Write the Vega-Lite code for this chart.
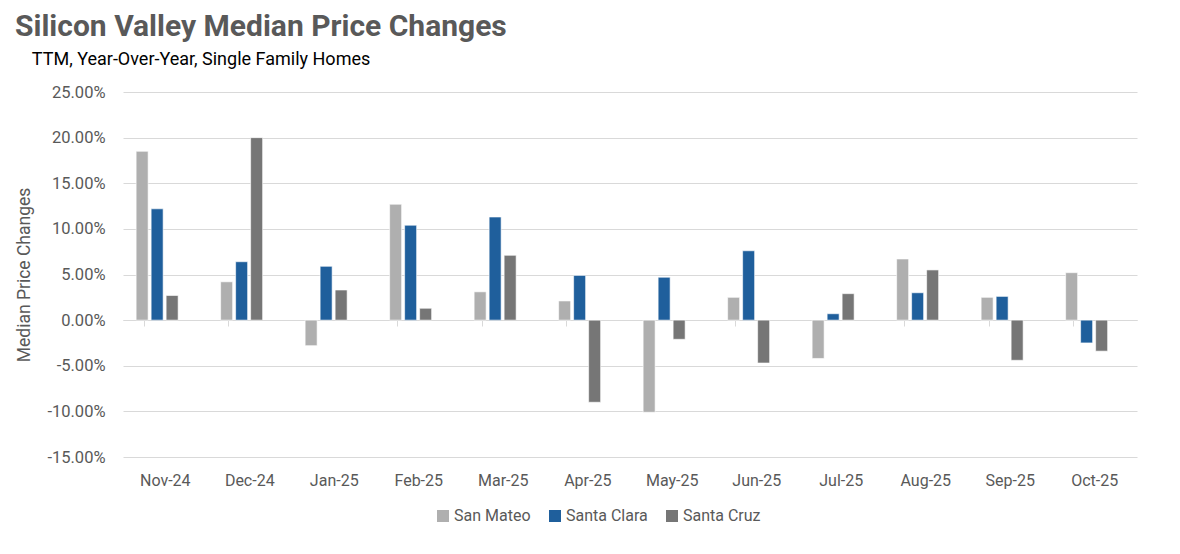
{
  "$schema": "https://vega.github.io/schema/vega-lite/v6.json",
  "autosize": "none",
  "width": 1014,
  "height": 365,
  "padding": {"left": 123, "top": 92, "right": 43, "bottom": 97},
  "background": "white",
  "title": {
    "text": "Silicon Valley Median Price Changes",
    "subtitle": "\u2800\u2009TTM, Year-Over-Year, Single Family Homes",
    "anchor": "start",
    "frame": "group",
    "dx": -108,
    "offset": 15,
    "font": "Roboto",
    "fontSize": 30,
    "fontWeight": 700,
    "color": "#595959",
    "subtitleFont": "Roboto, DejaVu Sans",
    "subtitleFontSize": 18,
    "subtitleColor": "#000000",
    "subtitlePadding": 9
  },
  "data": {
    "values": [
      {"month": "Nov-24", "county": "San Mateo", "change": 0.185},
      {"month": "Nov-24", "county": "Santa Clara", "change": 0.122},
      {"month": "Nov-24", "county": "Santa Cruz", "change": 0.027},
      {"month": "Dec-24", "county": "San Mateo", "change": 0.042},
      {"month": "Dec-24", "county": "Santa Clara", "change": 0.064},
      {"month": "Dec-24", "county": "Santa Cruz", "change": 0.200},
      {"month": "Jan-25", "county": "San Mateo", "change": -0.028},
      {"month": "Jan-25", "county": "Santa Clara", "change": 0.059},
      {"month": "Jan-25", "county": "Santa Cruz", "change": 0.033},
      {"month": "Feb-25", "county": "San Mateo", "change": 0.127},
      {"month": "Feb-25", "county": "Santa Clara", "change": 0.104},
      {"month": "Feb-25", "county": "Santa Cruz", "change": 0.013},
      {"month": "Mar-25", "county": "San Mateo", "change": 0.031},
      {"month": "Mar-25", "county": "Santa Clara", "change": 0.113},
      {"month": "Mar-25", "county": "Santa Cruz", "change": 0.071},
      {"month": "Apr-25", "county": "San Mateo", "change": 0.021},
      {"month": "Apr-25", "county": "Santa Clara", "change": 0.049},
      {"month": "Apr-25", "county": "Santa Cruz", "change": -0.090},
      {"month": "May-25", "county": "San Mateo", "change": -0.101},
      {"month": "May-25", "county": "Santa Clara", "change": 0.047},
      {"month": "May-25", "county": "Santa Cruz", "change": -0.021},
      {"month": "Jun-25", "county": "San Mateo", "change": 0.025},
      {"month": "Jun-25", "county": "Santa Clara", "change": 0.076},
      {"month": "Jun-25", "county": "Santa Cruz", "change": -0.047},
      {"month": "Jul-25", "county": "San Mateo", "change": -0.042},
      {"month": "Jul-25", "county": "Santa Clara", "change": 0.007},
      {"month": "Jul-25", "county": "Santa Cruz", "change": 0.029},
      {"month": "Aug-25", "county": "San Mateo", "change": 0.067},
      {"month": "Aug-25", "county": "Santa Clara", "change": 0.030},
      {"month": "Aug-25", "county": "Santa Cruz", "change": 0.055},
      {"month": "Sep-25", "county": "San Mateo", "change": 0.025},
      {"month": "Sep-25", "county": "Santa Clara", "change": 0.026},
      {"month": "Sep-25", "county": "Santa Cruz", "change": -0.044},
      {"month": "Oct-25", "county": "San Mateo", "change": 0.052},
      {"month": "Oct-25", "county": "Santa Clara", "change": -0.025},
      {"month": "Oct-25", "county": "Santa Cruz", "change": -0.034}
    ]
  },
  "mark": {"type": "bar", "stroke": "#ffffff", "strokeWidth": 0.6},
  "encoding": {
    "x": {
      "field": "month",
      "type": "nominal",
      "sort": null,
      "scale": {"paddingInner": 0.5, "paddingOuter": 0.25},
      "axis": {
        "title": null,
        "orient": "bottom",
        "offset": -137,
        "domain": true,
        "domainColor": "#d9d9d9",
        "domainWidth": 1,
        "ticks": true,
        "tickColor": "#d9d9d9",
        "tickSize": 6,
        "bandPosition": 0,
        "labelAngle": 0,
        "labelPadding": 146,
        "labelFont": "Roboto",
        "labelFontSize": 16,
        "labelColor": "#595959",
        "grid": false
      }
    },
    "xOffset": {
      "field": "county",
      "type": "nominal",
      "scale": {"paddingInner": 0.2, "paddingOuter": 0, "range": [-8, 34]}
    },
    "y": {
      "field": "change",
      "type": "quantitative",
      "scale": {"domain": [-0.15, 0.25], "nice": false, "zero": false},
      "axis": {
        "title": "Median Price Changes",
        "titleFont": "Roboto",
        "titleFontSize": 17.5,
        "titleFontWeight": "normal",
        "titleColor": "#595959",
        "titlePadding": 13,
        "values": [-0.15, -0.1, -0.05, 0, 0.05, 0.1, 0.15, 0.2, 0.25],
        "labelExpr": "replace(format(datum.value, '.2%'), '\u2212', '-')",
        "labelFont": "Roboto",
        "labelFontSize": 16.5,
        "labelColor": "#595959",
        "labelPadding": 18,
        "ticks": false,
        "domain": false,
        "grid": true,
        "gridColor": "#d9d9d9",
        "gridWidth": 1
      }
    },
    "color": {
      "field": "county",
      "type": "nominal",
      "scale": {
        "domain": ["San Mateo", "Santa Clara", "Santa Cruz"],
        "range": ["#afafaf", "#1f5f9c", "#767676"]
      },
      "legend": {
        "title": null,
        "orient": "none",
        "direction": "horizontal",
        "legendX": 312,
        "legendY": 416,
        "symbolType": "square",
        "symbolSize": 144,
        "symbolStrokeWidth": 0,
        "labelFont": "Roboto",
        "labelFontSize": 16,
        "labelColor": "#595959",
        "labelOffset": 3,
        "columnPadding": 16
      }
    }
  },
  "config": {
    "view": {"stroke": null}
  }
}
